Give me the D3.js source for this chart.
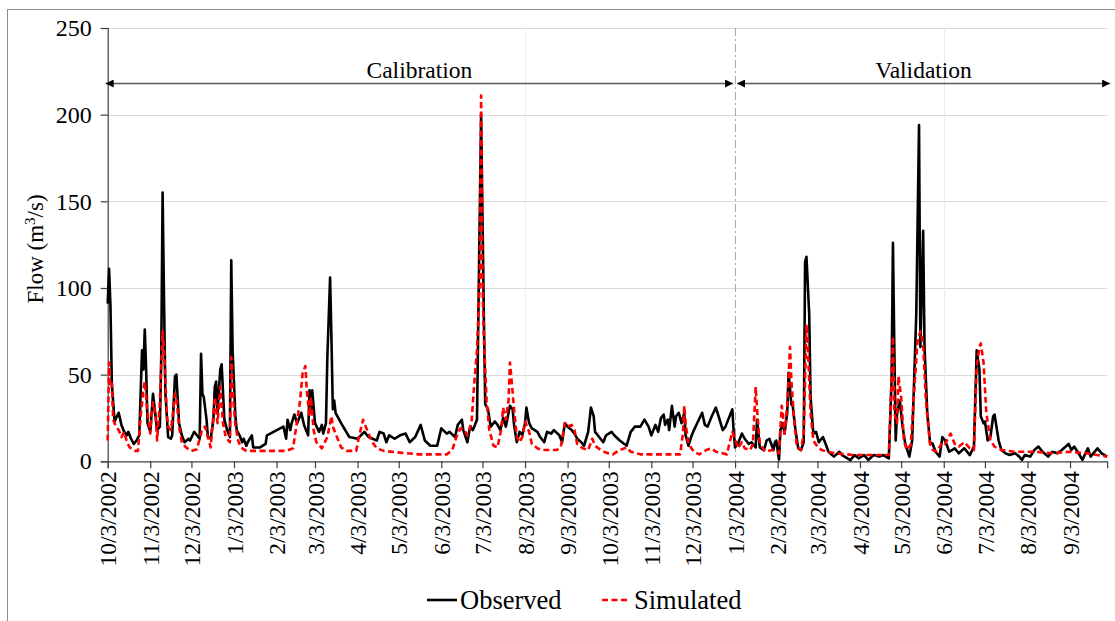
<!DOCTYPE html>
<html>
<head>
<meta charset="utf-8">
<script src="https://cdn.jsdelivr.net/npm/d3@7"></script>
<style>
  html, body { margin: 0; padding: 0; background: #fff; }
  svg text { font-family: "Liberation Serif", "Times New Roman", Tinos, "DejaVu Serif", serif; }
</style>
</head>
<body>
<svg id="chart" width="1115" height="621"></svg>
<script>
// Daily flow (m3/s), key readings per series as [date, value]
const observed = [
  ["10/3/2002",91],["10/4/2002",111],["10/5/2002",90],["10/6/2002",45],["10/8/2002",23],["10/11/2002",28],
  ["10/13/2002",21],["10/15/2002",17],["10/17/2002",15],["10/18/2002",17],["10/20/2002",13],["10/22/2002",10],
  ["10/24/2002",12],["10/26/2002",15],["10/28/2002",64],["10/29/2002",53],["10/30/2002",76],["10/31/2002",53],
  ["11/1/2002",22],["11/3/2002",17],["11/5/2002",39],["11/6/2002",32],["11/8/2002",18],["11/10/2002",20],
  ["11/11/2002",60],["11/12/2002",155],["11/13/2002",95],["11/14/2002",40],["11/16/2002",14],["11/18/2002",13],
  ["11/19/2002",15],["11/21/2002",49],["11/22/2002",50],["11/24/2002",22],["11/26/2002",15],["11/28/2002",11],
  ["12/1/2002",13],["12/2/2002",12],["12/5/2002",17],["12/7/2002",15],["12/9/2002",13],["12/10/2002",62],
  ["12/11/2002",39],["12/12/2002",37],["12/14/2002",24],["12/15/2002",14],["12/17/2002",13],["12/19/2002",24],
  ["12/20/2002",43],["12/21/2002",46],["12/22/2002",28],["12/24/2002",53],["12/25/2002",56],["12/27/2002",24],
  ["12/29/2002",18],["12/31/2002",14],["1/1/2003",116],["1/2/2003",64],["1/4/2003",26],["1/5/2003",18],
  ["1/7/2003",15],["1/9/2003",11],["1/10/2003",13],["1/12/2003",9],["1/13/2003",11],["1/16/2003",15],
  ["1/17/2003",8],["1/22/2003",8],["1/26/2003",10],["1/27/2003",15],["2/8/2003",20],["2/10/2003",13],
  ["2/11/2003",24],["2/13/2003",18],["2/14/2003",22],["2/16/2003",27],["2/18/2003",22],["2/21/2003",28],
  ["2/23/2003",21],["2/26/2003",15],["2/27/2003",41],["2/28/2003",28],["3/1/2003",41],["3/3/2003",22],
  ["3/6/2003",17],["3/8/2003",21],["3/9/2003",16],["3/11/2003",22],["3/12/2003",60],["3/14/2003",106],
  ["3/15/2003",70],["3/16/2003",30],["3/17/2003",35],["3/18/2003",28],["3/22/2003",22],["3/28/2003",14],
  ["4/3/2003",13],["4/8/2003",17],["4/11/2003",14],["4/17/2003",12],["4/19/2003",17],["4/22/2003",16],
  ["4/24/2003",11],["4/26/2003",15],["4/30/2003",13],["5/4/2003",15],["5/8/2003",16],["5/11/2003",11],
  ["5/15/2003",14],["5/19/2003",21],["5/22/2003",12],["5/26/2003",9],["5/31/2003",9],["6/3/2003",19],
  ["6/7/2003",16],["6/9/2003",17],["6/13/2003",14],["6/15/2003",21],["6/18/2003",24],["6/19/2003",18],
  ["6/22/2003",11],["6/24/2003",20],["6/26/2003",18],["6/29/2003",24],["6/30/2003",84],["7/2/2003",200],
  ["7/4/2003",84],["7/5/2003",33],["7/7/2003",30],["7/9/2003",20],["7/12/2003",23],["7/14/2003",21],
  ["7/16/2003",18],["7/18/2003",25],["7/20/2003",20],["7/23/2003",32],["7/25/2003",30],["7/26/2003",21],
  ["7/28/2003",11],["7/30/2003",17],["8/1/2003",15],["8/3/2003",22],["8/4/2003",31],["8/6/2003",22],
  ["8/8/2003",19],["8/10/2003",18],["8/12/2003",17],["8/14/2003",14],["8/17/2003",11],["8/19/2003",17],
  ["8/22/2003",16],["8/24/2003",18],["8/28/2003",15],["8/30/2003",11],["9/1/2003",22],["9/3/2003",20],
  ["9/6/2003",18],["9/8/2003",16],["9/10/2003",13],["9/13/2003",11],["9/15/2003",9],["9/18/2003",17],
  ["9/20/2003",31],["9/22/2003",26],["9/23/2003",17],["9/26/2003",14],["9/29/2003",11],["10/1/2003",15],
  ["10/5/2003",17],["10/7/2003",15],["10/11/2003",12],["10/16/2003",9],["10/19/2003",17],["10/22/2003",20],
  ["10/26/2003",20],["10/29/2003",24],["11/1/2003",20],["11/3/2003",15],["11/6/2003",21],["11/8/2003",17],
  ["11/10/2003",25],["11/12/2003",27],["11/13/2003",21],["11/15/2003",24],["11/16/2003",18],["11/18/2003",32],
  ["11/20/2003",20],["11/21/2003",26],["11/23/2003",28],["11/25/2003",22],["11/27/2003",28],["11/28/2003",15],
  ["11/30/2003",9],["12/2/2003",14],["12/4/2003",18],["12/7/2003",23],["12/10/2003",28],["12/12/2003",21],
  ["12/14/2003",20],["12/17/2003",26],["12/20/2003",31],["12/22/2003",26],["12/25/2003",18],["12/27/2003",20],
  ["12/30/2003",26],["1/1/2004",30],["1/2/2004",17],["1/3/2004",8],["1/5/2004",10],["1/8/2004",16],
  ["1/10/2004",13],["1/13/2004",10],["1/15/2004",11],["1/18/2004",8],["1/19/2004",24],["1/21/2004",8],
  ["1/24/2004",6.5],["1/26/2004",12],["1/28/2004",13],["1/31/2004",6.5],["2/1/2004",11],["2/2/2004",12],
  ["2/4/2004",1],["2/5/2004",18],["2/7/2004",22],["2/8/2004",16],["2/10/2004",28],["2/11/2004",51],
  ["2/13/2004",33],["2/14/2004",32],["2/16/2004",18],["2/18/2004",7.5],["2/20/2004",6.5],["2/22/2004",11],
  ["2/23/2004",115],["2/24/2004",118],["2/26/2004",85],["2/27/2004",37],["2/29/2004",16],["3/2/2004",17],
  ["3/4/2004",11],["3/7/2004",14],["3/9/2004",10],["3/11/2004",5.5],["3/15/2004",2.7],["3/19/2004",5.5],
  ["3/21/2004",3.6],["3/27/2004",0.7],["3/30/2004",3.6],["4/2/2004",1.7],["4/6/2004",3.6],["4/9/2004",0.8],
  ["4/13/2004",3.6],["4/17/2004",2.7],["4/20/2004",3.6],["4/24/2004",1.7],["4/26/2004",47],["4/27/2004",126],
  ["4/28/2004",66],["4/29/2004",12],["4/30/2004",28],["5/2/2004",35],["5/4/2004",20],["5/6/2004",10],
  ["5/9/2004",2.7],["5/11/2004",12],["5/14/2004",85],["5/16/2004",194],["5/17/2004",66],["5/19/2004",133],
  ["5/20/2004",66],["5/22/2004",28],["5/24/2004",11],["5/26/2004",10],["5/28/2004",5.5],["5/31/2004",2.7],
  ["6/2/2004",14],["6/4/2004",12],["6/7/2004",5.5],["6/11/2004",7.5],["6/14/2004",4.6],["6/18/2004",7.5],
  ["6/22/2004",3.6],["6/25/2004",8.5],["6/27/2004",64],["6/29/2004",53],["6/30/2004",26],["7/2/2004",22],
  ["7/3/2004",23],["7/5/2004",12],["7/7/2004",14],["7/9/2004",26],["7/10/2004",27],["7/13/2004",12],
  ["7/15/2004",6.5],["7/18/2004",4.6],["7/21/2004",3.6],["7/25/2004",4.6],["7/28/2004",2.7],["7/30/2004",0.8],
  ["8/1/2004",3.6],["8/5/2004",2.7],["8/8/2004",6.5],["8/11/2004",8.5],["8/14/2004",5.5],["8/18/2004",2.7],
  ["8/21/2004",5.5],["8/25/2004",4.6],["8/28/2004",6.5],["9/2/2004",10],["9/4/2004",6.5],["9/6/2004",8.5],
  ["9/10/2004",3.6],["9/12/2004",0.8],["9/16/2004",7.5],["9/18/2004",2.7],["9/23/2004",7.5],["9/26/2004",4.6],
  ["9/30/2004",2.7]
];

const simulated = [
  ["10/3/2002",12],["10/4/2002",57],["10/5/2002",43],["10/6/2002",45],["10/7/2002",24],["10/9/2002",20],
  ["10/11/2002",18],["10/13/2002",14],["10/15/2002",17],["10/17/2002",11],["10/19/2002",8],["10/23/2002",6],
  ["10/25/2002",6],["10/27/2002",26],["10/29/2002",41],["10/30/2002",46],["11/1/2002",28],["11/3/2002",16],
  ["11/4/2002",26],["11/5/2002",34],["11/7/2002",26],["11/8/2002",12],["11/10/2002",34],["11/12/2002",75],
  ["11/13/2002",66],["11/15/2002",28],["11/16/2002",20],["11/18/2002",18],["11/19/2002",24],["11/21/2002",39],
  ["11/22/2002",37],["11/24/2002",20],["11/26/2002",11],["11/29/2002",8],["12/3/2002",6],["12/7/2002",7],
  ["12/9/2002",13],["12/11/2002",19],["12/13/2002",20],["12/15/2002",14],["12/17/2002",8],["12/20/2002",37],
  ["12/21/2002",30],["12/22/2002",22],["12/24/2002",43],["12/26/2002",22],["12/28/2002",14],["12/31/2002",11],
  ["1/1/2003",60],["1/2/2003",41],["1/4/2003",21],["1/6/2003",12],["1/8/2003",8],["1/12/2003",6],
  ["1/22/2003",6],["2/1/2003",6],["2/10/2003",6],["2/15/2003",7.5],["2/17/2003",18],["2/20/2003",34],
  ["2/22/2003",51],["2/24/2003",55],["2/25/2003",41],["2/27/2003",26],["2/28/2003",37],["3/2/2003",18],
  ["3/4/2003",11],["3/8/2003",7.5],["3/12/2003",14],["3/15/2003",26],["3/16/2003",20],["3/19/2003",14],
  ["3/22/2003",8],["3/26/2003",6],["4/2/2003",6],["4/4/2003",14],["4/7/2003",24],["4/9/2003",20],
  ["4/13/2003",12],["4/17/2003",7.5],["4/22/2003",6],["5/4/2003",5],["5/18/2003",4],["6/7/2003",4],
  ["6/11/2003",6.5],["6/14/2003",14],["6/17/2003",19],["6/20/2003",18],["6/22/2003",15],["6/25/2003",22],
  ["6/27/2003",45],["6/29/2003",64],["7/1/2003",103],["7/2/2003",211],["7/3/2003",103],["7/4/2003",72],
  ["7/6/2003",35],["7/8/2003",18],["7/11/2003",9],["7/14/2003",8],["7/17/2003",20],["7/18/2003",31],
  ["7/20/2003",24],["7/22/2003",35],["7/23/2003",57],["7/24/2003",49],["7/26/2003",30],["7/28/2003",14],
  ["7/30/2003",11],["8/1/2003",14],["8/3/2003",23],["8/6/2003",17],["8/8/2003",10],["8/12/2003",7.5],
  ["8/15/2003",6.5],["8/26/2003",6.5],["8/29/2003",8],["9/1/2003",22],["9/3/2003",20],["9/6/2003",21],
  ["9/8/2003",18],["9/10/2003",10],["9/14/2003",7.5],["9/18/2003",6.5],["9/21/2003",13],["9/23/2003",9],
  ["9/27/2003",6.5],["10/1/2003",5],["10/6/2003",4],["10/11/2003",6.5],["10/16/2003",8],["10/19/2003",5.5],
  ["10/26/2003",4],["11/11/2003",4],["11/24/2003",4],["11/26/2003",16],["11/27/2003",32],["11/28/2003",22],
  ["11/30/2003",10],["12/4/2003",5.5],["12/8/2003",4],["12/13/2003",6.5],["12/17/2003",7.5],["12/20/2003",5.5],
  ["12/28/2003",4],["1/1/2004",17],["1/3/2004",13],["1/5/2004",7.5],["1/8/2004",11],["1/10/2004",7.5],
  ["1/14/2004",6.5],["1/16/2004",10],["1/18/2004",43],["1/19/2004",30],["1/21/2004",10],["1/25/2004",5.5],
  ["1/30/2004",6.5],["2/3/2004",5],["2/4/2004",4.6],["2/6/2004",32],["2/7/2004",26],["2/8/2004",16],
  ["2/10/2004",32],["2/12/2004",66],["2/13/2004",47],["2/15/2004",24],["2/17/2004",8.5],["2/20/2004",6.5],
  ["2/22/2004",16],["2/24/2004",79],["2/25/2004",66],["2/27/2004",28],["2/29/2004",12],["3/3/2004",8.5],
  ["3/6/2004",6.5],["3/10/2004",5.5],["3/16/2004",4.6],["3/30/2004",3.6],["4/9/2004",3.6],["4/24/2004",3.6],
  ["4/26/2004",47],["4/27/2004",72],["4/28/2004",28],["4/30/2004",22],["5/1/2004",49],["5/3/2004",37],
  ["5/5/2004",12],["5/7/2004",6.5],["5/10/2004",9.5],["5/13/2004",47],["5/15/2004",70],["5/17/2004",75],
  ["5/19/2004",68],["5/21/2004",35],["5/24/2004",10],["5/26/2004",6.5],["5/29/2004",5.5],["6/2/2004",11],
  ["6/4/2004",10],["6/8/2004",16],["6/11/2004",10],["6/14/2004",8.5],["6/18/2004",11],["6/22/2004",7.5],
  ["6/25/2004",6.5],["6/27/2004",55],["6/29/2004",66],["6/30/2004",68],["7/2/2004",57],["7/4/2004",28],
  ["7/7/2004",12],["7/10/2004",8.5],["7/15/2004",6.5],["7/25/2004",5.5],["8/9/2004",5.5],["8/21/2004",4.6],
  ["9/3/2004",5.5],["9/15/2004",4.6],["9/30/2004",2.7]
];

// Axis ticks and period bounds
const dateTicks = ["10/3/2002","11/3/2002","12/3/2002","1/3/2003","2/3/2003","3/3/2003","4/3/2003",
  "5/3/2003","6/3/2003","7/3/2003","8/3/2003","9/3/2003","10/3/2003","11/3/2003","12/3/2003","1/3/2004",
  "2/3/2004","3/3/2004","4/3/2004","5/3/2004","6/3/2004","7/3/2004","8/3/2004","9/3/2004"];
const yTicks = [0, 50, 100, 150, 200, 250];
const xGridDates = ["8/3/2003", "6/3/2004"];
const xDomain = ["10/3/2002", "9/30/2004"];
const splitDate = "1/3/2004";
const periods = [
  { label: "Calibration", from: "10/3/2002", to: "1/3/2004" },
  { label: "Validation", from: "1/3/2004", to: "9/30/2004" }
];

const parse = d3.timeParse("%m/%d/%Y");
const svg = d3.select("#chart");
const W = 1115, H = 621;
const plotL = 107.7, plotR = 1107.1, plotT = 28, plotB = 461.3;
const serif = '"Liberation Serif", "Times New Roman", Tinos, "DejaVu Serif", serif';

const x = d3.scaleTime().domain(xDomain.map(parse)).range([plotL, plotR]);
const y = d3.scaleLinear().domain([0, 250]).range([plotB, plotT]);

// Outer frame
svg.append("rect").attr("x", 7.5).attr("y", 9.5).attr("width", W).attr("height", H)
  .attr("fill", "#fff").attr("stroke", "#8c8c8c").attr("stroke-width", 1);

// Grid
svg.append("g").selectAll("line").data(yTicks.filter(d => d > 0)).join("line")
  .attr("x1", plotL).attr("x2", plotR)
  .attr("y1", d => Math.round(y(d)) + 0.5).attr("y2", d => Math.round(y(d)) + 0.5)
  .attr("stroke", "#d9d9d9").attr("stroke-width", 1);
svg.append("g").selectAll("line").data(xGridDates.map(parse)).join("line")
  .attr("x1", d => Math.round(x(d)) + 0.5).attr("x2", d => Math.round(x(d)) + 0.5)
  .attr("y1", plotT).attr("y2", plotB)
  .attr("stroke", "#ececec").attr("stroke-width", 1);

// Split between periods
svg.append("line")
  .attr("x1", Math.round(x(parse(splitDate))) + 0.5).attr("x2", Math.round(x(parse(splitDate))) + 0.5)
  .attr("y1", plotT).attr("y2", plotB)
  .attr("stroke", "#a6a6a6").attr("stroke-width", 1).attr("stroke-dasharray", "8,3,2,3");

// Axes
const yAxis = svg.append("g").attr("transform", `translate(${plotL},0)`)
  .call(d3.axisLeft(y).tickValues(yTicks).tickSize(7).tickPadding(9));
const xAxis = svg.append("g").attr("transform", `translate(0,${plotB})`)
  .call(d3.axisBottom(x).tickValues(dateTicks.map(parse)).tickSize(7).tickPadding(3)
    .tickFormat(d3.timeFormat("%-m/%-d/%Y")));
[yAxis, xAxis].forEach(g => {
  g.attr("font-family", serif);
  g.select(".domain").attr("stroke", "#404040").attr("stroke-width", 1.2);
  g.selectAll(".tick line").attr("stroke", "#404040").attr("stroke-width", 1.2);
  g.selectAll("text").attr("fill", "#000").attr("font-family", serif);
});
yAxis.selectAll("text").attr("font-size", 24);
xAxis.selectAll("text").attr("font-size", 23.5)
  .attr("transform", "rotate(-90)").attr("text-anchor", "end")
  .attr("x", -10).attr("y", 0).attr("dy", "0.35em");

// Y title
svg.append("text").attr("transform", "translate(43,249) rotate(-90)")
  .attr("text-anchor", "middle").attr("font-size", 23).attr("font-family", serif)
  .html('Flow (m<tspan baseline-shift="super" font-size="15">3</tspan>/s)');

// Period arrows
const defs = svg.append("defs");
defs.append("marker").attr("id", "ah").attr("viewBox", "0 0 10 10")
  .attr("refX", 10).attr("refY", 5).attr("markerWidth", 8).attr("markerHeight", 8)
  .attr("markerUnits", "userSpaceOnUse").attr("orient", "auto-start-reverse")
  .append("path").attr("d", "M0,0 L10,5 L0,10 z").attr("fill", "#000");
const arrowY = 83.5;
periods.forEach((p, i) => {
  const x1 = x(parse(p.from)) + (i === 0 ? -2 : 2);
  const x2 = x(parse(p.to)) + (i === 0 ? -2 : 3);
  svg.append("line").attr("x1", x1).attr("x2", x2).attr("y1", arrowY).attr("y2", arrowY)
    .attr("stroke", "#595959").attr("stroke-width", 1.3)
    .attr("marker-start", "url(#ah)").attr("marker-end", "url(#ah)");
  svg.append("text").attr("x", (x1 + x2) / 2).attr("y", arrowY - 6)
    .attr("text-anchor", "middle").attr("font-size", 23.5).attr("font-family", serif).text(p.label);
});

// Series
const line = d3.line().x(d => x(parse(d[0]))).y(d => y(d[1]));
svg.append("path").datum(observed).attr("d", line)
  .attr("fill", "none").attr("stroke", "#000").attr("stroke-width", 2.6)
  .attr("stroke-linejoin", "round");
svg.append("path").datum(simulated).attr("d", line)
  .attr("fill", "none").attr("stroke", "#ff0000").attr("stroke-width", 2.6)
  .attr("stroke-dasharray", "6,3.5").attr("stroke-linejoin", "round");

// Legend
const legend = svg.append("g").attr("font-size", 26.5).attr("font-family", serif);
legend.append("line").attr("x1", 427).attr("x2", 457).attr("y1", 600).attr("y2", 600)
  .attr("stroke", "#000").attr("stroke-width", 2.6);
legend.append("text").attr("x", 460).attr("y", 609).text("Observed");
legend.append("line").attr("x1", 602).attr("x2", 629).attr("y1", 600).attr("y2", 600)
  .attr("stroke", "#ff0000").attr("stroke-width", 2.6).attr("stroke-dasharray", "6,3.5");
legend.append("text").attr("x", 634).attr("y", 609).text("Simulated");
</script>
</body>
</html>
